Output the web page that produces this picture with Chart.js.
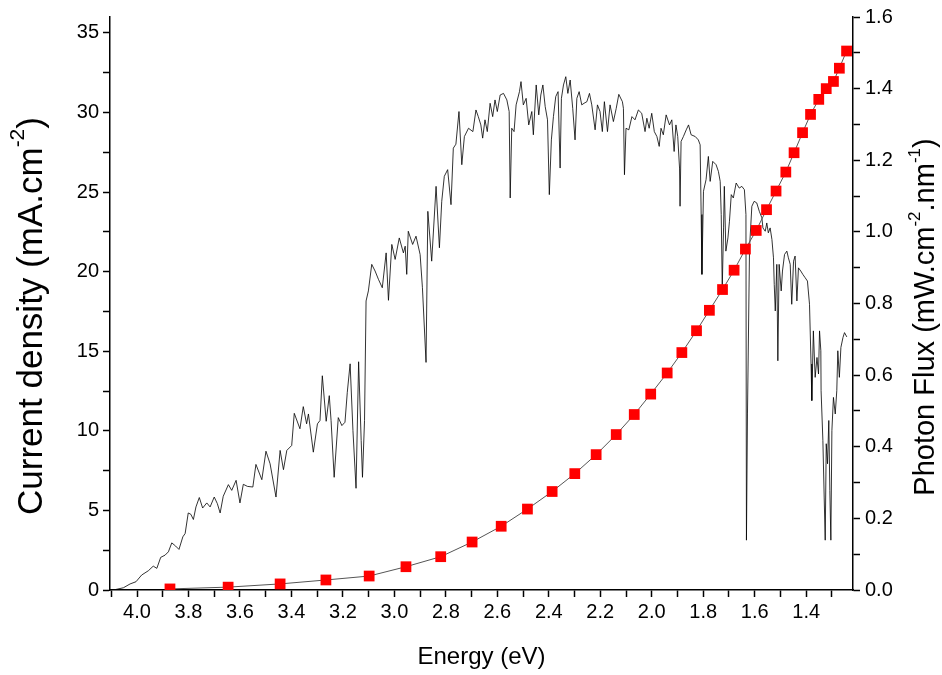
<!DOCTYPE html>
<html>
<head>
<meta charset="utf-8">
<script src="https://cdn.jsdelivr.net/npm/chart.js@4"></script>
<style>
  html, body { margin: 0; padding: 0; background: #fff; }
</style>
</head>
<body>
<canvas id="myChart" width="942" height="675"></canvas>
<script>
// black spectrum (read against left axis)
var spectrumEnergy = [
  4.092, 4.053, 4.027, 4.004, 3.982, 3.956, 3.937, 3.923, 3.908, 3.891,
  3.878, 3.865, 3.850, 3.837, 3.822, 3.813, 3.801, 3.791, 3.781, 3.771,
  3.758, 3.745, 3.729, 3.716, 3.700, 3.688, 3.677, 3.665, 3.645, 3.632,
  3.615, 3.600, 3.587, 3.571, 3.550, 3.538, 3.515, 3.499, 3.483, 3.460,
  3.444, 3.431, 3.418, 3.399, 3.389, 3.367, 3.354, 3.341, 3.334, 3.315,
  3.299, 3.289, 3.280, 3.265, 3.253, 3.246, 3.234, 3.218, 3.204, 3.192,
  3.183, 3.172, 3.161, 3.149, 3.139, 3.129, 3.124, 3.116, 3.110, 3.101,
  3.088, 3.075, 3.062, 3.047, 3.032, 3.023, 3.010, 2.997, 2.981, 2.965,
  2.958, 2.952, 2.946, 2.929, 2.916, 2.900, 2.891, 2.877, 2.870, 2.855,
  2.838, 2.825, 2.816, 2.806, 2.793, 2.780, 2.771, 2.761, 2.749, 2.738,
  2.728, 2.712, 2.695, 2.683, 2.674, 2.664, 2.657, 2.648, 2.639, 2.628,
  2.618, 2.609, 2.600, 2.589, 2.576, 2.563, 2.554, 2.550, 2.544, 2.535,
  2.527, 2.514, 2.508, 2.499, 2.488, 2.478, 2.466, 2.460, 2.449, 2.439,
  2.431, 2.423, 2.414, 2.405, 2.398, 2.390, 2.382, 2.373, 2.364, 2.356,
  2.351, 2.343, 2.334, 2.326, 2.317, 2.307, 2.298, 2.291, 2.282, 2.272,
  2.263, 2.252, 2.242, 2.233, 2.220, 2.211, 2.201, 2.192, 2.184, 2.172,
  2.162, 2.149, 2.138, 2.128, 2.114, 2.110, 2.106, 2.100, 2.089, 2.077,
  2.065, 2.052, 2.039, 2.026, 2.019, 2.010, 2.000, 1.990, 1.980, 1.971,
  1.964, 1.955, 1.944, 1.931, 1.922, 1.913, 1.906, 1.899, 1.892, 1.890,
  1.886, 1.877, 1.866, 1.857, 1.847, 1.831, 1.819, 1.812, 1.808, 1.805,
  1.799, 1.789, 1.780, 1.773, 1.763, 1.750, 1.741, 1.734, 1.730, 1.726,
  1.721, 1.718, 1.712, 1.704, 1.698, 1.691, 1.683, 1.672, 1.660, 1.650,
  1.640, 1.634, 1.632, 1.628, 1.620, 1.611, 1.602, 1.592, 1.582, 1.572,
  1.568, 1.559, 1.553, 1.547, 1.540, 1.533, 1.527, 1.524, 1.520, 1.514,
  1.510, 1.505, 1.497, 1.492, 1.484, 1.475, 1.469, 1.462, 1.456, 1.449,
  1.443, 1.436, 1.430, 1.421, 1.413, 1.404, 1.395, 1.387, 1.381, 1.378,
  1.372, 1.365, 1.358, 1.352, 1.348, 1.343, 1.342, 1.335, 1.330, 1.326,
  1.322, 1.317, 1.312, 1.308, 1.304, 1.300, 1.294, 1.287, 1.281, 1.277,
  1.271, 1.265, 1.257, 1.251, 1.242
];
var spectrumValues = [
  0, 0.14, 0.38, 0.52, 0.94, 1.21, 1.50, 1.36, 2.05, 2.19,
  2.40, 2.96, 2.76, 2.55, 3.34, 3.55, 4.84, 4.76, 4.43, 5.22,
  5.81, 5.15, 5.47, 5.22, 5.84, 5.43, 4.84, 5.89, 6.62, 6.26,
  6.89, 5.47, 6.64, 6.51, 6.47, 7.89, 6.93, 8.72, 7.93, 5.84,
  8.77, 7.56, 8.77, 9.08, 11.10, 10.13, 11.52, 10.44, 11.06, 8.66,
  10.44, 10.65, 13.46, 10.60, 12.21, 10.65, 7.08, 10.83, 10.33, 10.54,
  12.42, 14.21, 10.02, 6.39, 14.34, 9.39, 7.08, 10.65, 18.16, 18.79,
  20.46, 20.04, 19.52, 18.99, 21.18, 18.20, 21.71, 20.77, 22.12, 21.18,
  21.60, 19.83, 22.54, 21.71, 22.23, 21.08, 18.99, 14.30, 23.79, 20.66,
  25.36, 21.50, 24.42, 25.99, 26.41, 24.21, 27.76, 28.01, 30.06, 26.72,
  28.49, 29.01, 28.80, 30.16, 29.74, 29.22, 28.39, 29.54, 28.80, 30.58,
  29.74, 30.79, 30.06, 31.10, 31.20, 30.79, 30.06, 24.63, 29.01, 28.80,
  30.48, 31.31, 31.94, 30.48, 30.89, 29.22, 30.06, 28.60, 31.73, 29.85,
  31.10, 31.73, 30.37, 29.54, 24.84, 28.28, 29.74, 31.00, 31.31, 26.51,
  30.89, 31.73, 32.25, 31.20, 32.04, 30.26, 28.28, 30.89, 31.31, 30.48,
  30.58, 30.68, 31.20, 30.48, 28.91, 30.48, 30.06, 28.80, 30.68, 28.80,
  30.48, 29.43, 30.26, 31.14, 30.68, 30.26, 26.09, 29.01, 28.91, 29.74,
  29.54, 30.16, 29.95, 28.80, 29.64, 29.01, 29.95, 28.80, 28.49, 27.87,
  29.01, 28.60, 29.85, 29.22, 29.54, 27.55, 29.22, 28.49, 26.51, 24.11,
  28.18, 28.49, 28.91, 29.22, 28.60, 28.49, 28.28, 27.97, 23.59, 19.83,
  25.05, 25.78, 27.24, 25.67, 26.93, 26.72, 26.30, 25.67, 23.59, 18.99,
  22.75, 25.36, 21.29, 22.12, 23.17, 24.84, 24.63, 25.57, 25.25, 25.36,
  25.15, 23.59, 3.13, 11.06, 21.50, 24.11, 24.42, 24.32, 23.79, 23.38,
  22.75, 22.54, 23.06, 22.44, 22.75, 22.02, 20.87, 19.20, 17.53, 20.46,
  14.40, 20.46, 18.79, 20.04, 21.08, 21.29, 20.87, 20.46, 17.95, 20.66,
  20.98, 18.16, 20.24, 20.04, 19.83, 19.62, 19.41, 17.95, 14.20, 11.90,
  16.28, 13.36, 14.61, 13.57, 16.28, 15.03, 12.52, 9.39, 5.84, 3.13,
  9.19, 7.93, 10.65, 6.26, 3.13, 10.02, 12.10, 11.06, 12.52, 15.03,
  13.36, 15.24, 15.86, 16.17, 15.90
];

// red squares (read against right axis)
var squareEnergy = [
  3.872, 3.646, 3.444, 3.266, 3.098, 2.955, 2.820, 2.698, 2.585, 2.483,
  2.387, 2.299, 2.216, 2.138, 2.068, 2.004, 1.940, 1.883, 1.826, 1.776,
  1.725, 1.680, 1.636, 1.594, 1.554, 1.517, 1.479, 1.447, 1.414, 1.383,
  1.351, 1.322, 1.294, 1.271, 1.243
];
var squareValues = [
  0.003, 0.008, 0.017, 0.028, 0.039, 0.065, 0.093, 0.134, 0.178, 0.226,
  0.275, 0.325, 0.378, 0.434, 0.490, 0.547, 0.606, 0.663, 0.724, 0.781,
  0.839, 0.893, 0.952, 1.004, 1.062, 1.114, 1.167, 1.221, 1.277, 1.328,
  1.370, 1.400, 1.420, 1.457, 1.505
];

var energyTicks = [4.1, 4.0, 3.9, 3.8, 3.7, 3.6, 3.5, 3.4, 3.3, 3.2, 3.1, 3.0, 2.9, 2.8, 2.7,
  2.6, 2.5, 2.4, 2.3, 2.2, 2.1, 2.0, 1.9, 1.8, 1.7, 1.6, 1.5, 1.4, 1.3];
var leftTicks = [0, 2.5, 5, 7.5, 10, 12.5, 15, 17.5, 20, 22.5, 25, 27.5, 30, 32.5, 35];
var rightTicks = [0, 0.1, 0.2, 0.3, 0.4, 0.5, 0.6, 0.7, 0.8, 0.9, 1.0, 1.1, 1.2, 1.3, 1.4, 1.5, 1.6];

var leftTitle = [["Current density (mA.cm", 0], ["-2", 1], [")", 0]];
var rightTitle = [["Photon Flux (mW.cm", 0], ["-2", 1], [".nm", 0], ["-1", 1], [")", 0]];

var FONT = "'Liberation Sans', Arial, sans-serif";

function drawRotated(ctx, parts, cx, cy, size) {
  var small = Math.round(size * 0.6);
  ctx.save();
  ctx.translate(cx, cy);
  ctx.rotate(-Math.PI / 2);
  ctx.fillStyle = "#000";
  ctx.textBaseline = "middle";
  var total = 0;
  parts.forEach(function (p) {
    ctx.font = (p[1] ? small : size) + "px " + FONT;
    total += ctx.measureText(p[0]).width;
  });
  var x = -total / 2;
  parts.forEach(function (p) {
    ctx.font = (p[1] ? small : size) + "px " + FONT;
    ctx.fillText(p[0], x, p[1] ? -size * 0.38 : 0);
    x += ctx.measureText(p[0]).width;
  });
  ctx.restore();
}

var sideTitles = {
  id: "sideTitles",
  afterDraw: function (chart) {
    drawRotated(chart.ctx, leftTitle, 32, 316, 35);
    drawRotated(chart.ctx, rightTitle, 926, 317, 29);
  }
};

var axisGrid = {
  drawOnChartArea: false,
  drawTicks: true,
  tickLength: 7,
  tickColor: "#000",
  tickWidth: 1.5
};
var axisBorder = { display: true, color: "#000", width: 1.5 };
var tickFont = { family: FONT, size: 20 };

var lineData = spectrumEnergy.map(function (e, i) { return { x: e, y: spectrumValues[i] }; });
var squareData = squareEnergy.map(function (e, i) { return { x: e, y: squareValues[i] }; });

var ctx = document.getElementById("myChart").getContext("2d");
new Chart(ctx, {
  type: "line",
  data: {
    datasets: [
      {
        label: "flux",
        data: squareData,
        yAxisID: "y1",
        borderColor: "#555",
        borderWidth: 1,
        pointStyle: "rect",
        pointRadius: 7.6,
        pointBackgroundColor: "#ff0000",
        pointBorderColor: "#ff0000",
        pointBorderWidth: 0,
        tension: 0,
        fill: false
      },
      {
        label: "spectrum",
        data: lineData,
        yAxisID: "y",
        borderColor: "rgba(0, 0, 0, 0.8)",
        borderWidth: 1,
        pointRadius: 0,
        tension: 0,
        fill: false
      }
    ]
  },
  options: {
    responsive: false,
    animation: false,
    layout: { padding: { top: 15, left: 0, right: 0, bottom: 0 } },
    plugins: { legend: { display: false }, tooltip: { enabled: false } },
    scales: {
      x: {
        type: "linear",
        position: "bottom",
        reverse: true,
        min: 1.218,
        max: 4.105,
        afterBuildTicks: function (scale) {
          scale.ticks = energyTicks.map(function (v) { return { value: v }; });
        },
        afterFit: function (scale) { scale.height = 85; },
        grid: axisGrid,
        border: axisBorder,
        ticks: {
          autoSkip: false,
          maxRotation: 0,
          color: "#000",
          font: tickFont,
          padding: 3,
          callback: function (v) {
            return Math.round(v * 10) % 2 === 0 ? v.toFixed(1) : "";
          }
        },
        title: {
          display: true,
          text: "Energy (eV)",
          color: "#000",
          font: { family: FONT, size: 24 },
          padding: { top: 0, bottom: 3 }
        }
      },
      y: {
        type: "linear",
        position: "left",
        min: 0,
        max: 36,
        afterBuildTicks: function (scale) {
          scale.ticks = leftTicks.map(function (v) { return { value: v }; });
        },
        afterFit: function (scale) { scale.width = 110; },
        grid: axisGrid,
        border: axisBorder,
        ticks: {
          autoSkip: false,
          color: "#000",
          font: tickFont,
          padding: 4,
          callback: function (v) { return v % 5 === 0 ? String(v) : ""; }
        }
      },
      y1: {
        type: "linear",
        position: "right",
        min: 0,
        max: 1.6,
        afterBuildTicks: function (scale) {
          scale.ticks = rightTicks.map(function (v) { return { value: v }; });
        },
        afterFit: function (scale) { scale.width = 89; },
        grid: axisGrid,
        border: axisBorder,
        ticks: {
          autoSkip: false,
          color: "#000",
          font: tickFont,
          padding: 5,
          callback: function (v) {
            return Math.round(v * 10) % 2 === 0 ? v.toFixed(1) : "";
          }
        }
      }
    }
  },
  plugins: [sideTitles]
});
</script>
</body>
</html>
